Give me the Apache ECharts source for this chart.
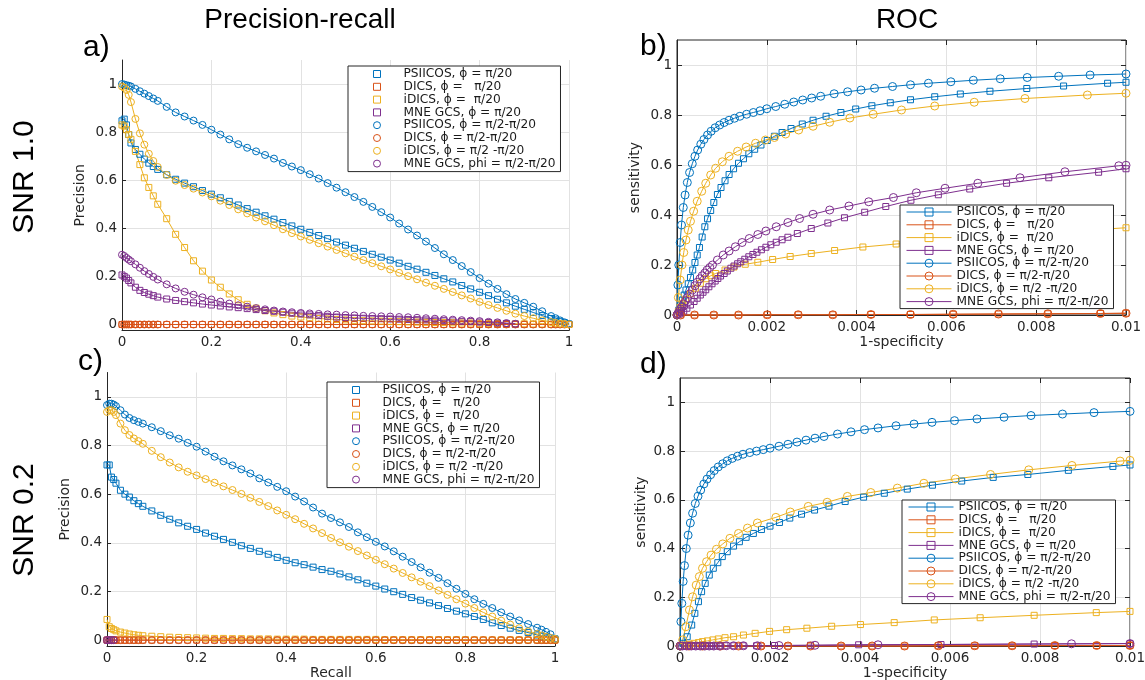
<!DOCTYPE html>
<html><head><meta charset="utf-8">
<script src="https://cdn.jsdelivr.net/npm/echarts@6/dist/echarts.min.js"></script>
<style>html,body{margin:0;padding:0;background:#fff}#c{width:1145px;height:680px}</style>
</head><body><div id="c"></div>
<script>
// ---------- legend names ----------
const NAMES = ['PSIICOS, ϕ = π/20','DICS, ϕ =   π/20','iDICS, ϕ =  π/20','MNE GCS, ϕ = π/20',
  'PSIICOS, ϕ = π/2-π/20','DICS, ϕ = π/2-π/20','iDICS, ϕ = π/2 -π/20','MNE GCS, phi = π/2-π/20'];
const COLORS = ['#0072BD','#D95319','#EDB120','#7E2F8E','#0072BD','#D95319','#EDB120','#7E2F8E'];

// ---------- precision-recall (recall grid) ----------
const PR_X = [0,0.005,0.01,0.015,0.02,0.03,0.04,0.05,0.06,0.07,0.08,0.1,0.12,0.14,0.16,0.18,0.2,0.22,0.24,0.26,0.28,0.3,0.32,0.34,0.36,0.38,0.4,0.42,0.44,0.46,0.48,0.5,0.52,0.54,0.56,0.58,0.6,0.62,0.64,0.66,0.68,0.7,0.72,0.74,0.76,0.78,0.8,0.82,0.84,0.86,0.88,0.9,0.92,0.94,0.96,0.97,0.98,0.99,1];
const PR_ZERO = [0,0,0,0,0,0,0,0,0,0,0,0,0,0,0,0,0,0,0,0,0,0,0,0,0,0,0,0,0,0,0,0,0,0,0,0,0,0,0,0,0,0,0,0,0,0,0,0,0,0,0,0,0,0,0,0,0,0,0];

// panel a) SNR 1.0
const A_PSIICOS_SQ = [0.847,0.854,0.83,0.79,0.755,0.728,0.708,0.688,0.671,0.657,0.645,0.623,0.604,0.588,0.573,0.557,0.542,0.527,0.512,0.497,0.482,0.467,0.452,0.438,0.424,0.41,0.396,0.383,0.37,0.357,0.343,0.33,0.317,0.304,0.292,0.28,0.268,0.255,0.242,0.23,0.217,0.204,0.19,0.177,0.162,0.148,0.134,0.12,0.105,0.09,0.076,0.063,0.05,0.037,0.025,0.019,0.013,0.007,0.002];
const A_IDICS_SQ = [0.83,0.825,0.81,0.79,0.77,0.72,0.665,0.61,0.57,0.535,0.5,0.44,0.375,0.32,0.265,0.222,0.185,0.155,0.127,0.103,0.084,0.068,0.057,0.048,0.041,0.035,0.031,0.028,0.025,0.023,0.021,0.019,0.017,0.016,0.015,0.014,0.013,0.012,0.011,0.01,0.009,0.008,0.008,0.007,0.006,0.006,0.005,0.005,0.004,0.004,0.003,0.003,0.002,0.002,0.001,0.001,0.001,0,0];
const A_MNE_SQ = [0.206,0.2,0.193,0.183,0.173,0.155,0.142,0.133,0.126,0.12,0.114,0.106,0.1,0.095,0.09,0.085,0.081,0.077,0.073,0.07,0.066,0.062,0.058,0.055,0.051,0.047,0.044,0.04,0.037,0.034,0.031,0.029,0.027,0.026,0.025,0.024,0.023,0.022,0.021,0.02,0.019,0.018,0.016,0.015,0.013,0.012,0.01,0.008,0.006,0.004,0.002];
const A_PSIICOS_CI = [1.0,0.998,0.995,0.993,0.99,0.98,0.97,0.96,0.95,0.94,0.93,0.905,0.882,0.865,0.848,0.83,0.81,0.79,0.77,0.75,0.735,0.72,0.705,0.69,0.672,0.657,0.642,0.625,0.607,0.588,0.569,0.55,0.53,0.51,0.489,0.467,0.445,0.42,0.395,0.37,0.345,0.318,0.292,0.268,0.243,0.218,0.193,0.17,0.148,0.126,0.106,0.09,0.074,0.055,0.035,0.026,0.017,0.009,0.002];
const A_IDICS_CI = [0.99,0.985,0.975,0.955,0.925,0.855,0.795,0.748,0.71,0.68,0.655,0.622,0.598,0.58,0.565,0.549,0.533,0.515,0.497,0.479,0.462,0.445,0.429,0.413,0.396,0.38,0.366,0.352,0.338,0.324,0.31,0.296,0.282,0.268,0.255,0.242,0.229,0.215,0.201,0.188,0.174,0.161,0.148,0.135,0.121,0.108,0.094,0.081,0.069,0.057,0.045,0.035,0.026,0.017,0.01,0.007,0.004,0.002,0];
const A_MNE_CI = [0.29,0.285,0.277,0.27,0.263,0.25,0.236,0.222,0.21,0.198,0.187,0.167,0.15,0.136,0.124,0.113,0.104,0.095,0.087,0.08,0.074,0.068,0.063,0.058,0.054,0.051,0.048,0.046,0.044,0.042,0.041,0.039,0.038,0.036,0.035,0.034,0.033,0.031,0.03,0.028,0.026,0.024,0.022,0.02,0.018,0.016,0.014,0.011,0.009,0.006,0.003];

// panel c) SNR 0.2
const C_PSIICOS_SQ = [0.72,0.72,0.67,0.66,0.645,0.616,0.6,0.588,0.573,0.561,0.55,0.531,0.513,0.497,0.482,0.468,0.455,0.44,0.427,0.414,0.402,0.388,0.377,0.365,0.353,0.34,0.328,0.318,0.31,0.3,0.29,0.283,0.272,0.26,0.248,0.234,0.222,0.21,0.199,0.188,0.175,0.164,0.153,0.142,0.13,0.119,0.108,0.097,0.085,0.071,0.06,0.049,0.04,0.031,0.021,0.017,0.013,0.009,0.005];
const C_IDICS_SQ = [0.085,0.055,0.048,0.043,0.038,0.033,0.029,0.025,0.022,0.02,0.018,0.016,0.014,0.012,0.011,0.01,0.009,0.008,0.007,0.007,0.006,0.006,0.005,0.005,0.005,0.004,0.004,0.004,0.004,0.003,0.003,0.003,0.003,0.003,0.003,0.003,0.003,0.002,0.002,0.002,0.002,0.002,0.002,0.002,0.002,0.002,0.002,0.001,0.001,0.001,0.001,0.001,0.001,0.001,0.001,0.001,0,0,0];
const C_PSIICOS_CI = [0.966,0.972,0.972,0.968,0.962,0.945,0.927,0.913,0.904,0.897,0.89,0.875,0.859,0.842,0.828,0.811,0.795,0.775,0.754,0.735,0.718,0.702,0.685,0.665,0.648,0.63,0.612,0.59,0.57,0.545,0.52,0.502,0.484,0.465,0.443,0.423,0.404,0.385,0.365,0.343,0.321,0.299,0.277,0.256,0.234,0.211,0.19,0.168,0.149,0.132,0.114,0.097,0.081,0.066,0.051,0.043,0.034,0.024,0.005];
const C_IDICS_CI = [0.938,0.945,0.945,0.938,0.925,0.89,0.863,0.843,0.829,0.818,0.807,0.778,0.752,0.73,0.71,0.692,0.677,0.662,0.647,0.632,0.617,0.601,0.585,0.568,0.551,0.533,0.515,0.497,0.478,0.459,0.44,0.42,0.402,0.384,0.366,0.348,0.33,0.312,0.294,0.276,0.258,0.24,0.222,0.204,0.186,0.168,0.15,0.132,0.114,0.097,0.08,0.064,0.049,0.036,0.025,0.019,0.014,0.009,0.005];
const C_MNE_X = [0,0.005,0.01,0.015];
const C_MNE_Y = [0,0,0,0];

// ---------- ROC (1-specificity) ----------
const ROC_X = [0,0.00002,0.00004,0.00007,0.0001,0.00014,0.00018,0.00023,0.00028,0.00034,0.0004,0.00046,0.00053,0.0006,0.00068,0.00076,0.00085,0.00095,0.00105,0.00116,0.00128,0.0014,0.00155,0.0017,0.00185,0.002,0.0022,0.0024,0.0026,0.0028,0.003,0.0032,0.0035,0.0038,0.0041,0.0044,0.0048,0.0052,0.0056,0.0061,0.0066,0.0072,0.0078,0.0085,0.0092,0.01];

// panel b) SNR 1.0
const B_PSIICOS_CI = [0,0.12,0.2,0.29,0.36,0.43,0.48,0.53,0.57,0.605,0.635,0.66,0.683,0.702,0.72,0.735,0.749,0.76,0.77,0.779,0.787,0.795,0.803,0.81,0.817,0.825,0.834,0.843,0.852,0.86,0.868,0.875,0.885,0.893,0.9,0.907,0.914,0.921,0.927,0.933,0.939,0.945,0.95,0.955,0.96,0.964];
const B_PSIICOS_SQ_X = [0,0.00004,0.00008,0.00012,0.00016,0.0002,0.00025,0.0003,0.00035,0.0004,0.00045,0.0005,0.00056,0.00062,0.00068,0.00075,0.00082,0.0009,0.00098,0.00107,0.00116,0.00126,0.00137,0.00148,0.0016,0.00173,0.00187,0.00201,0.00217,0.00234,0.00254,0.00279,0.00303,0.00332,0.00365,0.00398,0.00434,0.00475,0.0052,0.00574,0.00631,0.00697,0.00779,0.00861,0.00959,0.01];
const B_PSIICOS_SQ = [0,0.02,0.04,0.06,0.08,0.1,0.125,0.15,0.18,0.21,0.24,0.27,0.312,0.353,0.385,0.418,0.45,0.482,0.51,0.537,0.562,0.585,0.607,0.625,0.645,0.663,0.68,0.698,0.715,0.73,0.746,0.764,0.779,0.795,0.81,0.824,0.837,0.849,0.861,0.873,0.884,0.895,0.906,0.916,0.927,0.931];
const B_IDICS_CI_X = [0,0.00003,0.00007,0.00011,0.00015,0.0002,0.00025,0.0003,0.00037,0.00045,0.00055,0.00064,0.00075,0.00086,0.00101,0.00116,0.00135,0.00154,0.00175,0.00197,0.00217,0.00242,0.00271,0.00303,0.0034,0.00385,0.00437,0.005,0.00574,0.00662,0.00775,0.00914,0.01];
const B_IDICS_CI = [0,0.07,0.14,0.2,0.25,0.3,0.34,0.375,0.415,0.455,0.495,0.527,0.56,0.587,0.613,0.635,0.655,0.672,0.687,0.7,0.71,0.724,0.74,0.755,0.771,0.788,0.803,0.82,0.836,0.851,0.866,0.88,0.887];
const B_IDICS_SQ_X = [0,0.00003,0.00007,0.00012,0.00019,0.0003,0.00041,0.00052,0.00064,0.00075,0.00086,0.00107,0.00127,0.00152,0.0018,0.00213,0.00252,0.00299,0.00351,0.00414,0.00488,0.0058,0.0069,0.0083,0.01];
const B_IDICS_SQ = [0,0.015,0.03,0.045,0.06,0.085,0.107,0.127,0.145,0.157,0.166,0.18,0.192,0.203,0.211,0.222,0.234,0.246,0.258,0.272,0.284,0.298,0.312,0.33,0.349];
const B_MNE_CI_X = [0,0.00002,0.00005,0.00008,0.00011,0.00015,0.00019,0.00023,0.00028,0.00034,0.0004,0.00045,0.00051,0.00056,0.00062,0.00067,0.00073,0.00079,0.0009,0.00103,0.00116,0.0013,0.00145,0.00161,0.0018,0.00198,0.00221,0.00247,0.00273,0.00303,0.0034,0.00383,0.00427,0.00482,0.00533,0.00597,0.0067,0.00764,0.00864,0.00984,0.01];
const B_MNE_CI = [0,0.006,0.015,0.024,0.033,0.045,0.057,0.069,0.084,0.1,0.117,0.131,0.145,0.157,0.168,0.18,0.19,0.2,0.22,0.24,0.256,0.273,0.29,0.306,0.322,0.336,0.353,0.37,0.386,0.403,0.42,0.436,0.453,0.47,0.489,0.507,0.527,0.549,0.573,0.597,0.599];
const B_MNE_SQ_X = [0,0.00005,0.0001,0.00015,0.00022,0.0003,0.00038,0.00045,0.00052,0.00058,0.00064,0.00071,0.00078,0.00085,0.00091,0.00097,0.00105,0.00112,0.0012,0.00127,0.00135,0.00142,0.00151,0.0016,0.00169,0.00178,0.00188,0.00198,0.00209,0.00221,0.00234,0.00247,0.00268,0.00299,0.00336,0.00373,0.00418,0.00465,0.00521,0.00582,0.00652,0.00734,0.00828,0.00939,0.01];
const B_MNE_SQ = [0,0.004,0.009,0.016,0.027,0.04,0.054,0.067,0.08,0.091,0.101,0.113,0.125,0.136,0.146,0.156,0.166,0.176,0.187,0.196,0.205,0.213,0.223,0.233,0.242,0.251,0.261,0.271,0.281,0.291,0.301,0.311,0.326,0.346,0.368,0.389,0.411,0.434,0.459,0.481,0.504,0.527,0.549,0.571,0.585];
const B_DICS_X = [0,0.00008,0.00039,0.00082,0.00137,0.00201,0.0027,0.00347,0.00432,0.0052,0.00615,0.00716,0.00826,0.00943,0.01];
const B_DICS_Y = [0,0,0,0,0,0.001,0.001,0.001,0.002,0.002,0.003,0.004,0.005,0.006,0.007];

// panel d) SNR 0.2
const D_PSIICOS_CI = [0,0.1,0.175,0.265,0.33,0.4,0.455,0.505,0.545,0.585,0.615,0.64,0.665,0.685,0.703,0.72,0.735,0.748,0.76,0.77,0.779,0.787,0.794,0.8,0.806,0.812,0.82,0.828,0.837,0.845,0.853,0.86,0.87,0.879,0.888,0.895,0.904,0.911,0.918,0.925,0.932,0.939,0.946,0.952,0.958,0.963];
const D_PSIICOS_SQ_X = [0,0.00007,0.00016,0.00026,0.00033,0.00041,0.00048,0.00056,0.00065,0.00074,0.00084,0.00094,0.00105,0.00119,0.00132,0.00147,0.00163,0.00181,0.002,0.00221,0.00244,0.0027,0.00299,0.00331,0.00367,0.00408,0.00454,0.00505,0.00561,0.00626,0.00696,0.00773,0.00863,0.00962,0.01];
const D_PSIICOS_SQ = [0,0.011,0.038,0.086,0.134,0.182,0.223,0.257,0.291,0.319,0.342,0.367,0.387,0.41,0.428,0.446,0.462,0.478,0.492,0.507,0.525,0.541,0.558,0.574,0.593,0.611,0.627,0.644,0.66,0.677,0.692,0.704,0.721,0.737,0.743];
const D_IDICS_CI_X = [0,0.00006,0.00013,0.00021,0.00028,0.00036,0.00043,0.0005,0.00059,0.00069,0.00081,0.00095,0.00111,0.0013,0.0015,0.00172,0.00213,0.00245,0.00285,0.00327,0.00372,0.00424,0.00483,0.00542,0.00612,0.0069,0.00775,0.00871,0.00978,0.01];
const D_IDICS_CI = [0,0.025,0.079,0.148,0.202,0.25,0.285,0.319,0.346,0.373,0.397,0.419,0.442,0.462,0.484,0.505,0.528,0.55,0.573,0.59,0.614,0.63,0.648,0.668,0.686,0.704,0.723,0.741,0.759,0.762];
const D_IDICS_SQ_X = [0,0.00011,0.00022,0.00031,0.00041,0.0005,0.00061,0.00073,0.00085,0.001,0.00119,0.00141,0.00167,0.00199,0.00237,0.00282,0.00337,0.00401,0.00476,0.00565,0.00667,0.00787,0.00925,0.01];
const D_IDICS_SQ = [0,0.004,0.007,0.011,0.014,0.018,0.021,0.025,0.029,0.034,0.038,0.045,0.052,0.06,0.067,0.073,0.081,0.088,0.096,0.107,0.116,0.126,0.137,0.142];
const D_DICS_X = [0,0.0002,0.0005,0.0009,0.0013,0.0018,0.0024,0.0029,0.00358,0.00427,0.00499,0.00574,0.00655,0.00738,0.00833,0.00926,0.01];
const D_DICS_Y = [0,0,0,0,0,0,0,0,0,0,0,0.001,0.001,0.001,0.002,0.002,0.002];
const D_MNE_SQ_X = [0,0.0001,0.0002,0.0003,0.0004,0.0005,0.0006,0.0007,0.0008,0.0009,0.001,0.0012,0.0014,0.0017,0.0021,0.0029,0.00397,0.0058,0.00787,0.01];
const D_MNE_SQ = [0,0,0,0,0,0,0,0,0,0,0.001,0.001,0.001,0.001,0.002,0.003,0.005,0.006,0.008,0.01];
const D_MNE_CI_X = [0,0.00005,0.00015,0.00025,0.00035,0.00045,0.00055,0.00065,0.00075,0.00088,0.00103,0.00119,0.00141,0.00172,0.0022,0.003,0.0044,0.0087,0.01];
const D_MNE_CI = [0,0,0,0,0,0,0,0,0,0,0.001,0.001,0.001,0.001,0.002,0.003,0.005,0.009,0.01];

// ---------- build ----------
const AXC = '#262626', GRIDC = '#e2e2e2';
const TICK = {fontFamily:'DejaVu Sans', fontSize:13.5, color:AXC};
const NAMESTYLE = {fontFamily:'DejaVu Sans', fontSize:14, color:AXC};

function pts(xs, ys){ return ys.map((y,i)=>[xs[i], y]); }
function ser(k, p, xs, ys, size){
  return {type:'line', name:NAMES[k], xAxisIndex:p, yAxisIndex:p, data:pts(xs,ys),
    symbol: k<4 ? 'rect' : 'circle', symbolSize:size, showSymbol:true,
    lineStyle:{color:COLORS[k], width:1},
    itemStyle:{color:'rgba(255,255,255,0)', borderColor:COLORS[k], borderWidth:1},
    emphasis:{disabled:true}, silent:true, clip:false, animation:false};
}
const series = [
  ser(0,0,PR_X,A_PSIICOS_SQ,6), ser(1,0,PR_X,PR_ZERO,6), ser(2,0,PR_X,A_IDICS_SQ,6), ser(3,0,PR_X,A_MNE_SQ,6),
  ser(4,0,PR_X,A_PSIICOS_CI,7), ser(5,0,PR_X,PR_ZERO,7), ser(6,0,PR_X,A_IDICS_CI,7), ser(7,0,PR_X,A_MNE_CI,7),

  ser(0,1,B_PSIICOS_SQ_X,B_PSIICOS_SQ,6), ser(1,1,B_DICS_X,B_DICS_Y,6), ser(2,1,B_IDICS_SQ_X,B_IDICS_SQ,6), ser(3,1,B_MNE_SQ_X,B_MNE_SQ,6),
  ser(4,1,ROC_X,B_PSIICOS_CI,8), ser(5,1,B_DICS_X,B_DICS_Y,8), ser(6,1,B_IDICS_CI_X,B_IDICS_CI,8), ser(7,1,B_MNE_CI_X,B_MNE_CI,8),

  ser(0,2,PR_X,C_PSIICOS_SQ,6), ser(1,2,PR_X,PR_ZERO,6), ser(2,2,PR_X,C_IDICS_SQ,6), ser(3,2,C_MNE_X,C_MNE_Y,6),
  ser(4,2,PR_X,C_PSIICOS_CI,7), ser(5,2,PR_X,PR_ZERO,7), ser(6,2,PR_X,C_IDICS_CI,7), ser(7,2,C_MNE_X,C_MNE_Y,7),

  ser(0,3,D_PSIICOS_SQ_X,D_PSIICOS_SQ,6), ser(1,3,D_DICS_X,D_DICS_Y,6), ser(2,3,D_IDICS_SQ_X,D_IDICS_SQ,6), ser(3,3,D_MNE_SQ_X,D_MNE_SQ,6),
  ser(4,3,ROC_X,D_PSIICOS_CI,8), ser(5,3,D_DICS_X,D_DICS_Y,8), ser(6,3,D_IDICS_CI_X,D_IDICS_CI,8), ser(7,3,D_MNE_CI_X,D_MNE_CI,8)
];

function prX(g, name){
  return {gridIndex:g, type:'value', min:0, max:1, interval:0.2,
    name:name||'', nameLocation:'middle', nameGap:19, nameTextStyle:NAMESTYLE,
    axisLine:{show:true, onZero:false, lineStyle:{color:AXC, width:1}},
    axisTick:{show:true, inside:true, length:4, lineStyle:{color:AXC}},
    axisLabel:Object.assign({margin:5}, TICK),
    splitLine:{show:true, lineStyle:{color:GRIDC, width:1}}};
}
function rocX(g){
  return {gridIndex:g, type:'value', min:0, max:0.01, interval:0.002,
    name:'1-specificity', nameLocation:'middle', nameGap:19, nameTextStyle:NAMESTYLE,
    axisLine:{show:true, onZero:false, lineStyle:{color:AXC, width:1}},
    axisTick:{show:true, inside:true, length:5, lineStyle:{color:AXC}},
    axisLabel:Object.assign({margin:5}, TICK),
    splitLine:{show:true, lineStyle:{color:GRIDC, width:1}}};
}
function rocXTop(g){
  return {gridIndex:g, type:'value', position:'top', min:0, max:0.01, interval:0.002,
    axisLine:{show:false, onZero:false}, axisTick:{show:true, inside:true, length:5, lineStyle:{color:AXC}},
    axisLabel:{show:false}, splitLine:{show:false}};
}
function prY(g, gap){
  return {gridIndex:g, type:'value', min:-0.025, max:1.1,
    name:'Precision', nameLocation:'middle', nameGap:gap, nameTextStyle:NAMESTYLE,
    axisLine:{show:true, onZero:false, lineStyle:{color:AXC, width:1}},
    axisTick:{show:true, inside:true, length:4, lineStyle:{color:AXC}},
    axisLabel:Object.assign({margin:5, showMinLabel:false, showMaxLabel:false}, TICK),
    splitLine:{show:true, showMinLine:false, showMaxLine:false, lineStyle:{color:GRIDC, width:1}}};
}
function rocY(g, gap){
  return {gridIndex:g, type:'value', min:0, max:1.1, interval:0.2,
    name:'sensitivity', nameLocation:'middle', nameGap:gap, nameTextStyle:NAMESTYLE,
    axisLine:{show:true, onZero:false, lineStyle:{color:AXC, width:1}},
    axisTick:{show:true, inside:true, length:5, lineStyle:{color:AXC}},
    axisLabel:Object.assign({margin:5, showMaxLabel:false}, TICK),
    splitLine:{show:true, showMaxLine:false, lineStyle:{color:GRIDC, width:1}}};
}
function rocYRight(g){
  return {gridIndex:g, type:'value', position:'right', min:0, max:1.1, interval:0.2,
    axisLine:{show:false, onZero:false}, axisTick:{show:true, inside:true, length:5, lineStyle:{color:AXC}},
    axisLabel:{show:false}, splitLine:{show:false}};
}

const SQ_ICON = 'path://M0,0L10,0L10,10L0,10Z';
function legendPR(left, top){
  return {orient:'vertical', left:left, top:top, padding:[2,5,2,25], itemWidth:43, itemHeight:7, itemGap:0.8,
    backgroundColor:'#fff', borderColor:AXC, borderWidth:1, borderRadius:0, selectedMode:false,
    textStyle:{fontFamily:'DejaVu Sans', fontSize:12.2, color:'#1a1a1a', lineHeight:11.7},
    data: NAMES.map((n,k)=>({name:n, icon: k<4 ? SQ_ICON : 'circle',
      itemStyle:{color:'rgba(255,255,255,0)', borderColor:COLORS[k], borderWidth:1}}))};
}
function legendROC(left, top){
  return {orient:'vertical', left:left, top:top, padding:[1,5,1,6], itemWidth:45, itemHeight:10, itemGap:0.8,
    backgroundColor:'#fff', borderColor:AXC, borderWidth:1, borderRadius:0, selectedMode:false,
    textStyle:{fontFamily:'DejaVu Sans', fontSize:12.2, color:'#1a1a1a', lineHeight:11.7},
    data: NAMES.map((n,k)=>({name:n,
      itemStyle:{color:'rgba(255,255,255,0)', borderColor:COLORS[k], borderWidth:1},
      lineStyle:{color:COLORS[k], width:1}}))};
}

function txt(s, x, y, size, align, rot){
  return {type:'text', x:x, y:y, rotation:rot||0, silent:true,
    style:{text:s, fontFamily:'Liberation Sans', fontSize:size, fill:'#000', align:align||'center', verticalAlign:'middle'}};
}

const option = {
  animation:false,
  backgroundColor:'#fff',
  textStyle:{fontFamily:'DejaVu Sans'},
  grid:[
    {left:122, top:60, width:447, height:270.5, show:false, outerBoundsMode:'none'},
    {left:677, top:40, width:449, height:275, show:true, borderColor:AXC, borderWidth:1, backgroundColor:'transparent', outerBoundsMode:'none'},
    {left:107, top:372.5, width:448, height:273.7, show:false, outerBoundsMode:'none'},
    {left:680, top:378, width:450, height:268, show:true, borderColor:AXC, borderWidth:1, backgroundColor:'transparent', outerBoundsMode:'none'}
  ],
  xAxis:[prX(0,''), rocX(1), prX(2,'Recall'), rocX(3), rocXTop(1), rocXTop(3)],
  yAxis:[prY(0,35), rocY(1,35), prY(2,35), rocY(3,32), rocYRight(1), rocYRight(3)],
  legend:[legendPR(348,66), legendROC(900,205), legendPR(327,382), legendROC(902,500)],
  graphic:[
    txt('Precision-recall', 300, 20, 28),
    txt('ROC', 907, 20, 28),
    txt('SNR 1.0', 25, 177, 30, 'center', Math.PI/2),
    txt('SNR 0.2', 25, 520, 30, 'center', Math.PI/2),
    txt('a)', 83, 48, 30, 'left'),
    txt('b)', 640, 47, 30, 'left'),
    txt('c)', 78, 362, 30, 'left'),
    txt('d)', 640, 365, 30, 'left')
  ],
  series: series
};
const chart = echarts.init(document.getElementById('c'), null, {renderer:'canvas'});
chart.setOption(option);
</script>
</body></html>
